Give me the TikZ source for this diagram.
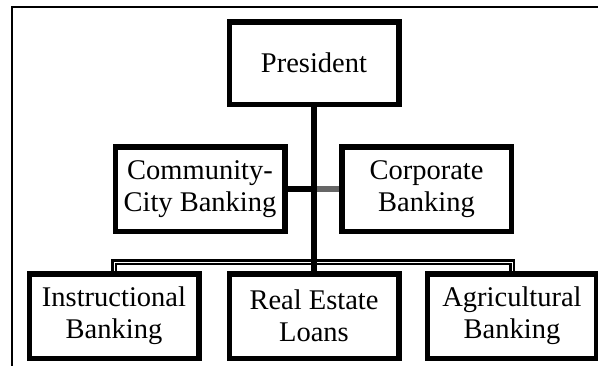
\documentclass[tikz,border=0pt]{standalone}
\usepackage{fontspec}
\setmainfont{Liberation Serif}
\definecolor{linkgray}{HTML}{666666}
\begin{document}
\begin{tikzpicture}[x=1pt,y=-1pt,
  box/.style={draw=black,line width=5.5pt,fill=white,minimum width=169.5pt,minimum height=84.5pt,
    inner sep=0pt,align=center,font=\fontsize{28.5}{32}\selectfont},
  link/.style={line width=5.5pt,black},
  busouter/.style={line width=6.5pt,black},
  businner/.style={line width=0.45pt,white}]
\useasboundingbox (0,0) rectangle (598,365);
\draw[line width=2pt] (12,367) -- (12,7) -- (600,7);
\node[box,minimum height=82.5pt] (pres) at (314,63) {President};
\node[box] (comm) at (200,189) {Community-\\City Banking};
\node[box] (corp) at (426.5,189) {Corporate\\Banking};
\node[box] (instr) at (114,316) {Instructional\\Banking};
\node[box] (real) at (314,316) {Real Estate\\Loans};
\node[box] (agri) at (512,316) {Agricultural\\Banking};
\coordinate (bus) at (314,262);
\coordinate (mid) at (314,189);
\draw[busouter] (instr.north) -- (instr.north |- bus) -- (agri.north |- bus) -- (agri.north);
\draw[businner] (instr.north) -- (instr.north |- bus) -- (agri.north |- bus) -- (agri.north);
\draw[link] (pres.south) -- (real.north);
\draw[link] (comm.east) -- (mid);
\draw[line width=5.5pt,linkgray] ([xshift=2.75pt]mid) -- (corp.west);
\end{tikzpicture}
\end{document}
